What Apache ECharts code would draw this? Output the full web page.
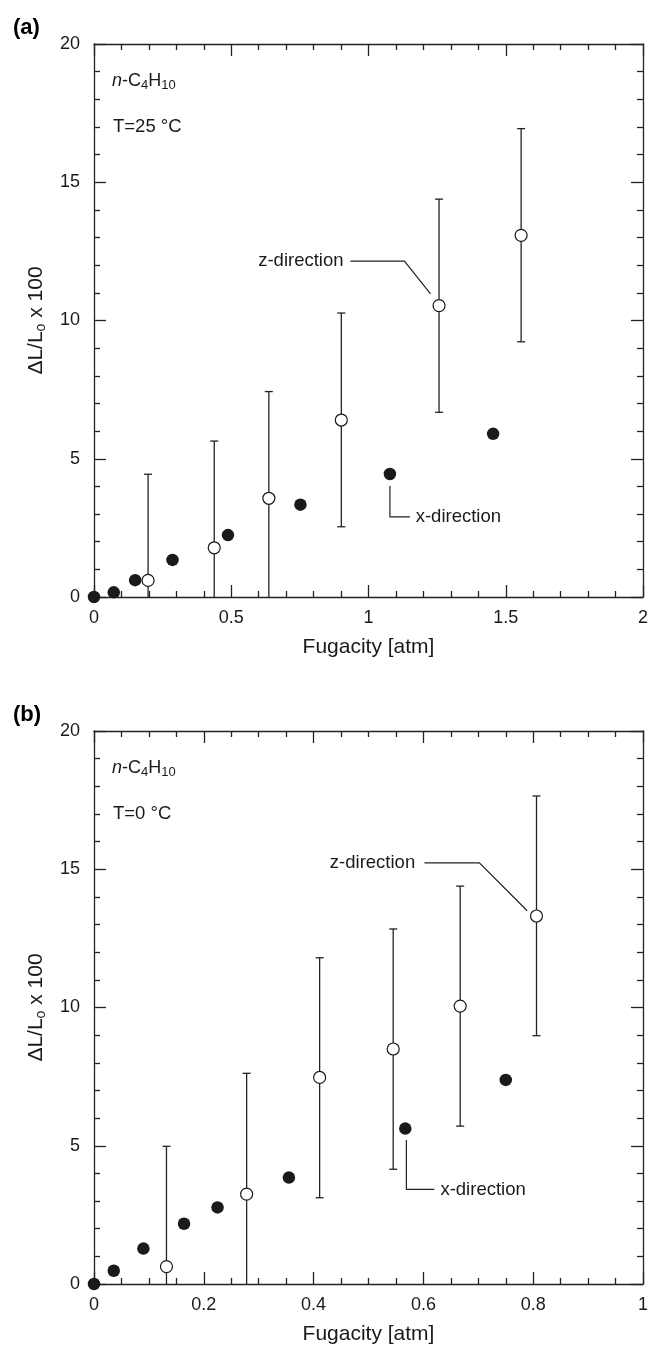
<!DOCTYPE html>
<html>
<head>
<meta charset="utf-8">
<script src="https://cdn.jsdelivr.net/npm/echarts@6/dist/echarts.min.js"></script>
<style>
html,body{margin:0;padding:0;background:#fff;}
#chart{width:652px;height:1348px;}
</style>
</head>
<body>
<div id="chart"></div>
<script>
// ---------- Data ----------
// Panel (a): n-C4H10, T = 25 °C
const xFillA = [0, 0.072, 0.15, 0.286, 0.488, 0.752, 1.078, 1.454];
const yFillA = [0, 0.17, 0.61, 1.34, 2.24, 3.34, 4.45, 5.90];
const xOpenA = [0.197, 0.438, 0.637, 0.901, 1.257, 1.556];
const yOpenA = [0.60, 1.78, 3.57, 6.40, 10.54, 13.08];
const errHighA = [4.44, 5.64, 7.43, 10.27, 14.39, 16.94];
const errLowA = [null, null, null, 2.54, 6.68, 9.23]; // null: bar runs below the axis

// Panel (b): n-C4H10, T = 0 °C
const xFillB = [0, 0.036, 0.09, 0.164, 0.225, 0.355, 0.567, 0.75];
const yFillB = [0, 0.48, 1.28, 2.18, 2.77, 3.85, 5.62, 7.38];
const xOpenB = [0.132, 0.278, 0.411, 0.545, 0.667, 0.806];
const yOpenB = [0.63, 3.25, 7.47, 8.50, 10.05, 13.31];
const errHighB = [4.98, 7.62, 11.80, 12.84, 14.39, 17.65];
const errLowB = [null, null, 3.12, 4.15, 5.71, 8.98];

// Axis ticks
const yTicks = [0, 5, 10, 15, 20];
const xTicksA = [0, 0.5, 1, 1.5, 2];
const xTicksB = [0, 0.2, 0.4, 0.6, 0.8, 1];

const panelLabels = ['(a)', '(b)'];
const tempLabels = ['T=25 °C', 'T=0 °C'];
const xTitle = 'Fugacity [atm]';
const annZ = 'z-direction';
const annX = 'x-direction';

// ---------- Layout / style ----------
const FONT = '"Liberation Sans", Arial, Helvetica, sans-serif';
const INK = '#1a1a1a';
const AX = '#222';
const GRIDS = [
  {left: 94, top: 44, width: 549, height: 553},
  {left: 94, top: 731, width: 549, height: 553}
];

// annotation leader lines, in data units of each panel
const annotations = [
  { z: {textAt: [0.909, 12.15], line: [[0.934, 12.15], [1.131, 12.15], [1.226, 10.96]]},
    x: {textAt: [1.172, 2.90], line: [[1.078, 4.01], [1.078, 2.90], [1.151, 2.90]]} },
  { z: {textAt: [0.585, 15.23], line: [[0.602, 15.23], [0.702, 15.23], [0.789, 13.50]]},
    x: {textAt: [0.631, 3.42], line: [[0.569, 5.21], [0.569, 3.42], [0.620, 3.42]]} }
];

const chart = echarts.init(document.getElementById('chart'), null, {renderer: 'canvas'});

function axisCommon(extra) {
  return Object.assign({
    type: 'value',
    axisLine: {show: true, onZero: false, lineStyle: {color: AX, width: 1.3}},
    axisTick: {show: true, inside: true, length: 12, lineStyle: {color: AX, width: 1.3}},
    minorTick: {show: true, splitNumber: 5, length: 6, lineStyle: {color: AX, width: 1.3}},
    splitLine: {show: false},
    minorSplitLine: {show: false}
  }, extra);
}

const xAxes = [], yAxes = [], series = [];
const panels = [
  {xs: xFillA, ys: yFillA, xo: xOpenA, yo: yOpenA, hi: errHighA, lo: errLowA, xt: xTicksA, minor: 5},
  {xs: xFillB, ys: yFillB, xo: xOpenB, yo: yOpenB, hi: errHighB, lo: errLowB, xt: xTicksB, minor: 4}
];

panels.forEach((p, g) => {
  const xmin = p.xt[0], xmax = p.xt[p.xt.length - 1], xint = p.xt[1] - p.xt[0];
  const ymin = yTicks[0], ymax = yTicks[yTicks.length - 1], yint = yTicks[1] - yTicks[0];
  xAxes.push(axisCommon({
    gridIndex: g, position: 'bottom', min: xmin, max: xmax, interval: xint,
    minorTick: {show: true, splitNumber: p.minor, length: 6, lineStyle: {color: AX, width: 1.3}},
    axisLabel: {show: true, fontSize: 18, color: INK, fontFamily: FONT, margin: 12},
    name: xTitle, nameLocation: 'middle', nameGap: 40,
    nameTextStyle: {fontSize: 21, color: INK, fontFamily: FONT}
  }));
  xAxes.push(axisCommon({
    gridIndex: g, position: 'top', min: xmin, max: xmax, interval: xint,
    minorTick: {show: true, splitNumber: p.minor, length: 6, lineStyle: {color: AX, width: 1.3}},
    axisLabel: {show: false}
  }));
  yAxes.push(axisCommon({
    gridIndex: g, position: 'left', min: ymin, max: ymax, interval: yint,
    axisLabel: {show: true, fontSize: 18, color: INK, fontFamily: FONT, margin: 14},
    name: '{a|ΔL/L}{s|o}{a| x 100}', nameLocation: 'middle', nameGap: 46, nameRotate: 90,
    nameTextStyle: {
      color: INK, fontFamily: FONT,
      rich: {
        a: {fontSize: 21, color: INK, fontFamily: FONT},
        s: {fontSize: 14, color: INK, fontFamily: FONT, padding: [10, 0, 0, 0]}
      }
    }
  }));
  yAxes.push(axisCommon({
    gridIndex: g, position: 'right', min: ymin, max: ymax, interval: yint,
    axisLabel: {show: false}
  }));

  const xi = g * 2, yi = g * 2;

  // error bars
  series.push({
    type: 'custom', xAxisIndex: xi, yAxisIndex: yi, silent: true, z: 2, clip: false,
    data: p.xo.map((x, i) => [x, p.yo[i]]),
    encode: {x: 0, y: 1},
    renderItem: function (params, api) {
      const i = params.dataIndex;
      const x = p.xo[i];
      const top = api.coord([x, p.hi[i]]);
      const hasLo = p.lo[i] !== null;
      const bot = api.coord([x, hasLo ? p.lo[i] : ymin]);
      const st = {stroke: AX, lineWidth: 1.3};
      const children = [
        {type: 'line', shape: {x1: top[0], y1: top[1], x2: bot[0], y2: bot[1]}, style: st},
        {type: 'line', shape: {x1: top[0] - 4, y1: top[1], x2: top[0] + 4, y2: top[1]}, style: st}
      ];
      if (hasLo) children.push({type: 'line', shape: {x1: bot[0] - 4, y1: bot[1], x2: bot[0] + 4, y2: bot[1]}, style: st});
      return {type: 'group', children: children};
    }
  });

  // open circles (z-direction)
  series.push({
    type: 'scatter', xAxisIndex: xi, yAxisIndex: yi, silent: true, z: 3, clip: false,
    symbol: 'circle', symbolSize: 12,
    itemStyle: {color: '#fff', borderColor: INK, borderWidth: 1.2, opacity: 1},
    data: p.xo.map((x, i) => [x, p.yo[i]])
  });

  // filled circles (x-direction)
  series.push({
    type: 'scatter', xAxisIndex: xi, yAxisIndex: yi, silent: true, z: 4, clip: false,
    symbol: 'circle', symbolSize: 12.5,
    itemStyle: {color: INK, opacity: 1},
    data: p.xs.map((x, i) => [x, p.ys[i]])
  });

  // annotations
  const ann = annotations[g];
  series.push({
    type: 'custom', xAxisIndex: xi, yAxisIndex: yi, silent: true, z: 5, clip: false,
    data: [[xmin, ymin]],
    encode: {x: 0, y: 1},
    renderItem: function (params, api) {
      const st = {stroke: AX, lineWidth: 1.2, fill: null};
      const zl = ann.z.line.map(pt => api.coord(pt));
      const xl = ann.x.line.map(pt => api.coord(pt));
      const zt = api.coord(ann.z.textAt);
      const xt = api.coord(ann.x.textAt);
      return {type: 'group', children: [
        {type: 'polyline', shape: {points: zl}, style: st},
        {type: 'polyline', shape: {points: xl}, style: st},
        {type: 'text', x: zt[0], y: zt[1], style: {text: annZ, fill: INK, font: '18.5px ' + FONT, align: 'right', verticalAlign: 'middle'}},
        {type: 'text', x: xt[0], y: xt[1], style: {text: annX, fill: INK, font: '18.5px ' + FONT, align: 'left', verticalAlign: 'middle'}}
      ]};
    }
  });
});

const graphics = [];
GRIDS.forEach((gr, g) => {
  graphics.push({
    type: 'text', left: 13, top: gr.top - 27, silent: true,
    style: {text: panelLabels[g], fill: '#000', font: 'bold 22px ' + FONT}
  });
  graphics.push({
    type: 'text', x: gr.left + 18, y: gr.top + 37, silent: true,
    style: {
      text: '{i|n}{r|-C}{s|4}{r|H}{s|10}',
      verticalAlign: 'middle', align: 'left',
      rich: {
        i: {fontSize: 18, fontStyle: 'italic', fontFamily: FONT, fill: INK},
        r: {fontSize: 18, fontFamily: FONT, fill: INK},
        s: {fontSize: 13, fontFamily: FONT, fill: INK, padding: [9, 0, 0, 0]}
      }
    }
  });
  graphics.push({
    type: 'text', x: gr.left + 19, y: gr.top + 83, silent: true,
    style: {text: tempLabels[g], fill: INK, font: '18.5px ' + FONT, verticalAlign: 'middle', align: 'left'}
  });
});

chart.setOption({
  backgroundColor: '#fff',
  animation: false,
  textStyle: {fontFamily: FONT},
  grid: GRIDS.map(g => Object.assign({containLabel: false}, g)),
  xAxis: xAxes,
  yAxis: yAxes,
  series: series,
  graphic: graphics
});
</script>
</body>
</html>
